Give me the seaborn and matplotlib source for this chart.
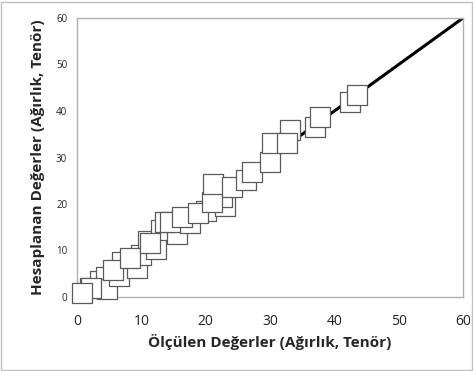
import seaborn as sns
import pandas as pd
from matplotlib import pyplot as plt
from matplotlib.patches import Rectangle

# measured vs computed values (weight, grade)
olculen = [2.0, 3.5, 4.5, 4.6, 2.2, 7.0, 6.5, 9.4, 5.6, 0.8, 10.0, 12.3, 11.0,
           8.2, 13.0, 15.5, 11.4, 17.5, 13.7, 14.5, 16.3, 20.0, 23.0, 18.8,
           22.5, 21.0, 21.2, 24.1, 26.2, 27.2, 30.0, 33.1, 30.3, 32.7, 37.0,
           37.8, 42.5, 43.5]
hesaplanan = [2.0, 3.5, 4.2, 1.8, 2.0, 7.5, 4.5, 6.3, 5.8, 0.9, 9.0, 10.3, 12.0,
              8.4, 14.5, 13.5, 11.6, 16.0, 16.1, 16.1, 17.2, 18.5, 19.5, 18.1,
              21.5, 20.4, 24.3, 23.7, 25.2, 26.9, 29.0, 35.9, 33.1, 33.1, 36.6,
              38.7, 41.9, 43.4]
line_x = [0, 60]
line_y = [0, 60]

df = pd.DataFrame({'x': olculen, 'y': hesaplanan})
line_df = pd.DataFrame({'x': line_x, 'y': line_y})

sns.set_style('white')
plt.rcParams['font.family'] = ['Open Sans', 'DejaVu Sans']

fig = plt.figure(figsize=(4.73, 3.71), dpi=100)
ax = fig.add_axes([77 / 473, 74 / 371, 386 / 473, 279 / 371])

sns.lineplot(data=line_df, x='x', y='y', color='black', linewidth=2.2, ax=ax)
sns.scatterplot(data=df, x='x', y='y', marker='s', s=195, color='white',
                edgecolor='#5a5a5a', linewidth=0.9, ax=ax, clip_on=False, zorder=3)

ax.set_xlim(0, 60)
ax.set_ylim(0, 60)
ax.set_xticks(range(0, 61, 10))
ax.set_yticks(range(0, 61, 10))
ax.tick_params(axis='x', labelsize=10, pad=12, length=0, colors='#222222')
ax.tick_params(axis='y', labelsize=7, pad=7, length=0, colors='#222222')
for s in ax.spines.values():
    s.set_color('#b0b0b0')
    s.set_linewidth(1)

ax.set_xlabel('Ölçülen Değerler (Ağırlık, Tenör)', fontsize=11, fontweight='bold', labelpad=4)
ax.set_ylabel('Hesaplanan Değerler (Ağırlık, Tenör)', fontsize=11, fontweight='bold', labelpad=8)

fig.patches.append(Rectangle((0.003, 0.003), 0.994, 0.992, transform=fig.transFigure,
                             fill=False, edgecolor='#c0c0c0', linewidth=1))

fig.savefig('out.png', dpi=100)
